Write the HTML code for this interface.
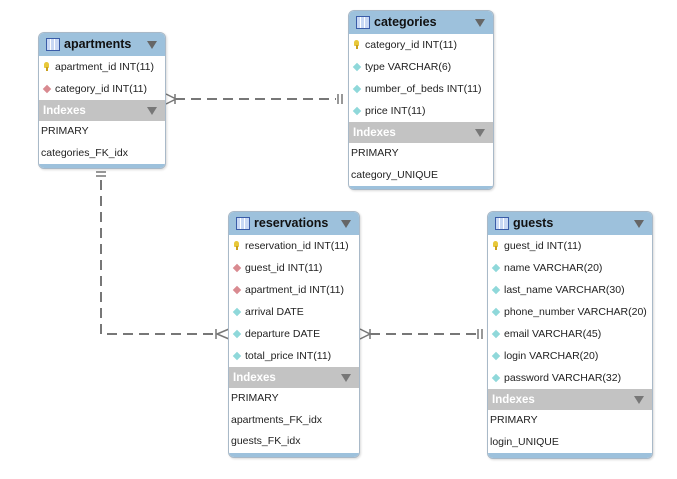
<!DOCTYPE html>
<html><head><meta charset="utf-8"><style>
body{margin:0;width:677px;height:479px;background:#fff;position:relative;overflow:hidden;font-family:"Liberation Sans",sans-serif;font-size:10.5px;color:#222}
.t{position:absolute;border:1px solid #a9b9c8;border-radius:6px;background:#fff;overflow:hidden;box-shadow:1px 1px 2px rgba(0,0,0,.15)}
.h{height:23px;background:#9dc1dc;position:relative;font-weight:bold;font-size:12.5px;color:#111;line-height:23px;padding-left:25px}
.h:before{content:"";position:absolute;left:7px;top:5px;width:12px;height:11px;border:1px solid #3a5ca8;background:linear-gradient(90deg,#c8d8f4 0 3px,#fff 3px 4px,#c8d8f4 4px 7px,#fff 7px 8px,#c8d8f4 8px);}
.h:after,.ix:after{content:"";position:absolute;right:8px;top:8px;border-left:5px solid transparent;border-right:5px solid transparent;border-top:8px solid #666}
.r{height:22px;line-height:22px;position:relative;padding-left:16px;white-space:nowrap}
.k:before{content:"";position:absolute;left:5px;top:6px;width:5px;height:6px;background:#e8c83a;border-radius:3px 3px 1px 1px}
.k:after{content:"";position:absolute;left:7px;top:11px;width:2px;height:4px;background:#c9a020}
.f:before,.c:before{content:"";position:absolute;left:5px;top:8px;width:6px;height:6px;transform:rotate(45deg)}
.f:before{background:#d98a90}.c:before{background:#8fd8da}
.ix{height:21px;background:#c3c3c3;color:#fff;font-weight:bold;line-height:22px;padding-left:4px;position:relative;font-size:11.5px}
.ix:after{border-top-color:#777;top:7px}
.i{height:21.5px;line-height:21.5px;padding-left:2px;white-space:nowrap}
.b{height:8px;background:#9dc1dc}
</style></head><body>
<svg width="677" height="479" style="position:absolute;left:0;top:0" fill="none" stroke="#777" stroke-width="2">
<line x1="175" y1="99" x2="336" y2="99" stroke-dasharray="10,6"/>
<path d="M166 94 L176 99 L166 104 M175 94 V104 M338 94 V104 M342 94 V104" stroke-width="1.5"/>
<path d="M101 180 V334 H216" stroke-dasharray="10,6"/>
<path d="M96 172 H106 M96 176 H106 M229 329 L217 334 L229 339 M216 329 V339" stroke-width="1.5"/>
<line x1="370" y1="334" x2="476" y2="334" stroke-dasharray="10,6"/>
<path d="M360 329 L370 334 L360 339 M370 329 V339 M478 329 V339 M482 329 V339" stroke-width="1.5"/>
</svg>

<div class="t" style="left:38px;top:32px;width:126px;height:135px">
<div class="h">apartments</div>
<div class="r k">apartment_id INT(11)</div>
<div class="r f">category_id INT(11)</div>
<div class="ix">Indexes</div>
<div class="i">PRIMARY</div>
<div class="i">categories_FK_idx</div>
<div class="b"></div></div>

<div class="t" style="left:348px;top:10px;width:144px;height:178px">
<div class="h">categories</div>
<div class="r k">category_id INT(11)</div>
<div class="r c">type VARCHAR(6)</div>
<div class="r c">number_of_beds INT(11)</div>
<div class="r c">price INT(11)</div>
<div class="ix">Indexes</div>
<div class="i">PRIMARY</div>
<div class="i">category_UNIQUE</div>
<div class="b"></div></div>

<div class="t" style="left:228px;top:211px;width:130px;height:245px">
<div class="h">reservations</div>
<div class="r k">reservation_id INT(11)</div>
<div class="r f">guest_id INT(11)</div>
<div class="r f">apartment_id INT(11)</div>
<div class="r c">arrival DATE</div>
<div class="r c">departure DATE</div>
<div class="r c">total_price INT(11)</div>
<div class="ix">Indexes</div>
<div class="i">PRIMARY</div>
<div class="i">apartments_FK_idx</div>
<div class="i">guests_FK_idx</div>
<div class="b"></div></div>

<div class="t" style="left:487px;top:211px;width:164px;height:246px">
<div class="h">guests</div>
<div class="r k">guest_id INT(11)</div>
<div class="r c">name VARCHAR(20)</div>
<div class="r c">last_name VARCHAR(30)</div>
<div class="r c">phone_number VARCHAR(20)</div>
<div class="r c">email VARCHAR(45)</div>
<div class="r c">login VARCHAR(20)</div>
<div class="r c">password VARCHAR(32)</div>
<div class="ix">Indexes</div>
<div class="i">PRIMARY</div>
<div class="i">login_UNIQUE</div>
<div class="b"></div></div>
</body></html>
